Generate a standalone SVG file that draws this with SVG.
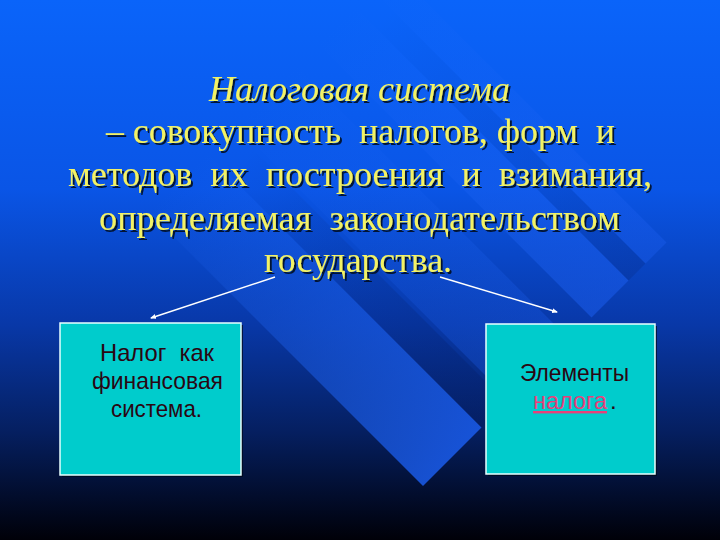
<svg xmlns="http://www.w3.org/2000/svg" width="720" height="540" viewBox="0 0 720 540">
<defs>
<linearGradient id="bg" x1="0" y1="0" x2="0" y2="1">
<stop offset="0" stop-color="#0a64fa"/>
<stop offset="0.35" stop-color="#0a55e6"/>
<stop offset="0.6" stop-color="#0838a8"/>
<stop offset="0.8" stop-color="#051f60"/>
<stop offset="1" stop-color="#000008"/>
</linearGradient>
<linearGradient id="band" gradientUnits="userSpaceOnUse" x1="180" y1="180" x2="454" y2="454">
<stop offset="0" stop-color="#2a70ff" stop-opacity="0"/>
<stop offset="0.4" stop-color="#2068f8" stop-opacity="0.3"/>
<stop offset="1" stop-color="#1a5cec" stop-opacity="0.85"/>
</linearGradient>
<linearGradient id="bandDark" gradientUnits="userSpaceOnUse" x1="200" y1="200" x2="454" y2="454">
<stop offset="0" stop-color="#031a60" stop-opacity="0"/>
<stop offset="1" stop-color="#031a60" stop-opacity="0.3"/>
</linearGradient>
<filter id="tsh" x="-5%" y="-20%" width="110%" height="140%">
<feDropShadow dx="2" dy="2" stdDeviation="0.6" flood-color="#000820" flood-opacity="0.9"/>
</filter>
<marker id="arr" markerWidth="6" markerHeight="6" refX="5" refY="3" orient="auto" markerUnits="userSpaceOnUse">
<path d="M0,0.5 L6,3 L0,5.5 Z" fill="#ffffff"/>
</marker>
<style>
.title{font-family:"Liberation Serif","Times New Roman",serif;font-size:36px;fill:#f2f266;filter:url(#tsh);white-space:pre}
.it{font-style:italic}
.box{fill:#00cccc;stroke:#e8ffff;stroke-width:1.5}
.boxsh{fill:#000818;opacity:0.7}
.btxt{font-family:"Liberation Sans",Arial,sans-serif;font-size:24px;fill:#2a0612;white-space:pre}
.link{fill:#e8407a}
.conn{stroke:#ffffff;stroke-width:1.4;fill:none;marker-end:url(#arr)}
</style>
</defs>
<rect x="0" y="0" width="720" height="540" fill="url(#bg)"/>
<g id="bands">
<polygon points="68.5,131.5 127,73 481.5,427.5 423,486" fill="url(#band)"/>
<polygon points="127,73 152,48 506.5,402.5 481.5,427.5" fill="url(#bandDark)"/>
<polygon points="155,45 215,-15 569.5,339.5 509.5,399.5" fill="url(#band)" opacity="0.4"/>
<polygon points="237,-37 274,-74 628.5,280.5 591.5,317.5" fill="url(#band)" opacity="0.65"/>
<polygon points="274,-74 291,-91 645.5,263.5 628.5,280.5" fill="url(#bandDark)" opacity="0.6"/>
<polygon points="291,-91 312,-112 666.5,242.5 645.5,263.5" fill="url(#band)" opacity="0.5"/>
</g>
<g id="title">
<text class="title it" x="209" y="101" textLength="301" lengthAdjust="spacingAndGlyphs">Налоговая система</text>
<text class="title" x="106" y="143" textLength="509" lengthAdjust="spacingAndGlyphs">– совокупность  налогов, форм  и</text>
<text class="title" x="68" y="186" textLength="584" lengthAdjust="spacingAndGlyphs">методов  их  построения  и  взимания,</text>
<text class="title" x="99" y="230" textLength="521" lengthAdjust="spacingAndGlyphs">определяемая  законодательством</text>
<text class="title" x="264" y="272" textLength="188" lengthAdjust="spacingAndGlyphs">государства.</text>
</g>
<g id="connectors">
<line class="conn" x1="275" y1="277" x2="151" y2="318"/>
<line class="conn" x1="440" y1="277" x2="557" y2="312"/>
</g>
<g id="node-left">
<rect class="boxsh" x="62" y="325" width="181" height="152"/>
<rect class="box" x="60" y="323" width="181" height="152"/>
<text class="btxt" x="100" y="361" textLength="114" lengthAdjust="spacingAndGlyphs">Налог  как</text>
<text class="btxt" x="92" y="389" textLength="131" lengthAdjust="spacingAndGlyphs">финансовая</text>
<text class="btxt" x="111" y="417" textLength="91" lengthAdjust="spacingAndGlyphs">система.</text>
</g>
<g id="node-right">
<rect class="boxsh" x="488" y="326" width="169" height="150"/>
<rect class="box" x="486" y="324" width="169" height="150"/>
<text class="btxt" x="520" y="381" textLength="109" lengthAdjust="spacingAndGlyphs">Элементы</text>
<text class="btxt link" x="533" y="409" textLength="74" lengthAdjust="spacingAndGlyphs" text-decoration="underline">налога</text>
<text class="btxt" x="610" y="409">.</text>
</g>
</svg>
